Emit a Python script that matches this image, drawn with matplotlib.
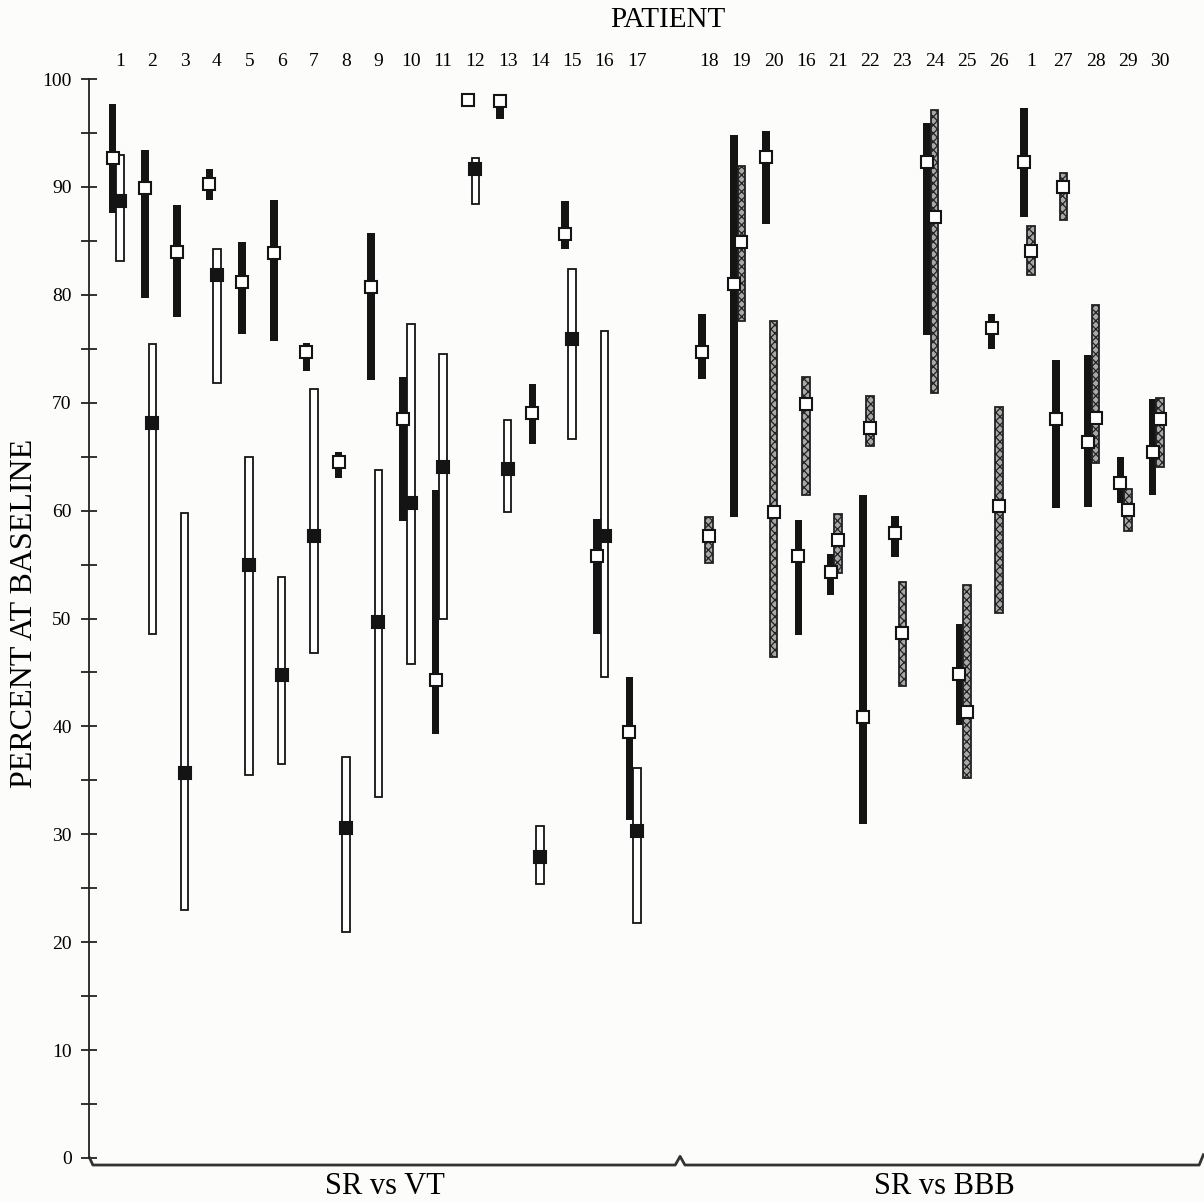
import numpy as np
import matplotlib
matplotlib.use("Agg")
import matplotlib.pyplot as plt

# SR vs VT patients
vt_patients = ["1", "2", "3", "4", "5", "6", "7", "8", "9", "10", "11", "12", "13", "14", "15", "16", "17"]
sr_vt_low = [87.6, 79.7, 77.9, 88.8, 76.4, 75.7, 72.9, 63.0, 72.1, 59.0, 39.3, 98.1, 96.3, 66.2, 84.2, 48.6, 31.3]
sr_vt_high = [97.7, 93.4, 88.3, 91.7, 84.9, 88.8, 75.5, 65.4, 85.7, 72.4, 61.9, 98.1, 98.3, 71.7, 88.7, 59.2, 44.6]
sr_vt_med = [92.7, 89.9, 84.0, 90.3, 81.2, 83.9, 74.7, 64.5, 80.7, 68.5, 44.3, 98.1, 98.0, 69.0, 85.6, 55.8, 39.5]
vt_low = [83.1, 48.6, 23.0, 71.8, 35.5, 36.5, 46.8, 20.9, 33.5, 45.8, 50.0, 88.4, 59.9, 25.4, 66.6, 44.6, 21.8]
vt_high = [93.0, 75.4, 59.8, 84.2, 65.0, 53.8, 71.3, 37.2, 63.8, 77.3, 74.5, 92.7, 68.4, 30.8, 82.4, 76.6, 36.1]
vt_med = [88.7, 68.1, 35.7, 81.8, 55.0, 44.8, 57.6, 30.6, 49.7, 60.7, 64.0, 91.7, 63.9, 27.9, 75.9, 57.6, 30.3]

# SR vs BBB patients
bbb_patients = ["18", "19", "20", "16", "21", "22", "23", "24", "25", "26", "1", "27", "28", "29", "30"]
sr_bbb_low = [72.2, 59.4, 86.6, 48.5, 52.2, 31.0, 55.7, 76.3, 40.1, 75.0, 87.2, 60.2, 60.3, 60.7, 61.4]
sr_bbb_high = [78.2, 94.8, 95.2, 59.1, 56.0, 61.4, 59.5, 95.9, 49.5, 78.2, 97.3, 74.0, 74.4, 65.0, 70.3]
sr_bbb_med = [74.7, 81.0, 92.8, 55.8, 54.3, 40.9, 57.9, 92.3, 44.9, 76.9, 92.3, 68.5, 66.4, 62.6, 65.4]
bbb_low = [55.1, 77.6, 46.4, 61.4, 54.2, 66.0, 43.7, 70.9, 35.2, 50.5, 81.8, 86.9, 64.4, 58.1, 64.0]
bbb_high = [59.4, 91.9, 77.6, 72.4, 59.7, 70.6, 53.4, 97.1, 53.1, 69.6, 86.4, 91.3, 79.1, 62.0, 70.4]
bbb_med = [57.6, 84.9, 59.9, 69.9, 57.3, 67.7, 48.7, 87.2, 41.3, 60.4, 84.1, 90.0, 68.6, 60.1, 68.5]

groups = ["SR vs VT", "SR vs BBB"]

plt.rcParams['font.family'] = ['Liberation Serif', 'DejaVu Serif']
plt.rcParams['hatch.linewidth'] = 0.9

INK = "#141414"
BG = "#fcfcfa"
W = 0.235     # bar width in patient slots
OFF = 0.23    # SR bar sits this far left of the label


def draw_pair(ax, pos, lo1, hi1, md1, lo2, hi2, md2, second):
    pos = np.asarray(pos, dtype=float)
    lo1, hi1 = np.asarray(lo1), np.asarray(hi1)
    lo2, hi2 = np.asarray(lo2), np.asarray(hi2)
    ax.bar(pos - OFF, hi1 - lo1, bottom=lo1, width=W, color=INK, zorder=2)
    if second == "vt":
        ax.bar(pos, hi2 - lo2, bottom=lo2, width=W, facecolor="white",
               edgecolor=INK, linewidth=1.3, zorder=3)
        mfc2 = INK
    else:
        ax.bar(pos, hi2 - lo2, bottom=lo2, width=W, facecolor="#a8a8a8",
               edgecolor="#222", linewidth=1.3, hatch="xxxx", zorder=3)
        mfc2 = "white"
    ax.plot(pos - OFF, md1, ls="none", marker="s", ms=8.8, mfc="white",
            mec=INK, mew=1.5, zorder=5)
    ax.plot(pos, md2, ls="none", marker="s", ms=8.8, mfc=mfc2,
            mec=INK, mew=1.5, zorder=5)


def main():
    fig = plt.figure(figsize=(12.04, 12.02), dpi=100, facecolor=BG)
    ax = fig.add_axes([89 / 1204, 1 - 1158 / 1202, 1 - 89 / 1204, (1158 - 79) / 1202])
    ax.set_facecolor(BG)

    vt_pos = np.arange(len(vt_patients))
    bbb_pos = 18.24 + np.arange(len(bbb_patients)) * 0.997

    draw_pair(ax, vt_pos, sr_vt_low, sr_vt_high, sr_vt_med,
              vt_low, vt_high, vt_med, "vt")
    draw_pair(ax, bbb_pos, sr_bbb_low, sr_bbb_high, sr_bbb_med,
              bbb_low, bbb_high, bbb_med, "bbb")

    x0, x1 = -0.96, 33.56
    ax.set_xlim(x0, x1)
    ax.set_ylim(0, 100)

    for s in ["top", "right", "bottom"]:
        ax.spines[s].set_visible(False)
    ax.spines["left"].set_bounds(0, 100)
    ax.spines["left"].set_linewidth(1.3)
    ax.spines["left"].set_color("#222")
    ax.set_xticks([])
    ax.set_yticks(np.arange(0, 101, 10))
    ax.set_yticks(np.arange(5, 100, 10), minor=True)
    ax.tick_params(axis="y", which="both", direction="inout", length=11,
                   width=1.3, color="#222", labelsize=14, pad=7)

    # patient numbers along the top
    for p, lab in zip(vt_pos, vt_patients):
        ax.text(p, 101.6, lab, ha="center", va="center", fontsize=14)
    for p, lab in zip(bbb_pos, bbb_patients):
        ax.text(p, 101.6, lab, ha="center", va="center", fontsize=14)

    # bracket under the two groups
    mid = (vt_pos[-1] + bbb_pos[0]) / 2 + 0.22
    yb = -0.65
    bx = [x0 + 0.02, x0 + 0.12, mid - 0.15, mid, mid + 0.15, x1 - 0.15, x1 - 0.02]
    by = [0.0, yb, yb, 0.15, yb, yb, 0.3]
    ax.plot(bx, by, color="#333", lw=2.0, clip_on=False)

    ax.text(vt_pos.mean() + 0.2, -2.6, groups[0], ha="center", va="center", fontsize=22)
    ax.text(bbb_pos.mean() + 0.3, -2.6, groups[1], ha="center", va="center", fontsize=22)

    fig.text(668 / 1204, 1 - 20 / 1202, "PATIENT", ha="center", va="center", fontsize=21)
    fig.text(25 / 1204, 1 - 613 / 1202, "PERCENT AT BASELINE", ha="center",
             va="center", rotation=90, fontsize=23)

    fig.savefig("out.png", dpi=100, facecolor=BG)
    plt.close(fig)


if __name__ == '__main__':
    main()
